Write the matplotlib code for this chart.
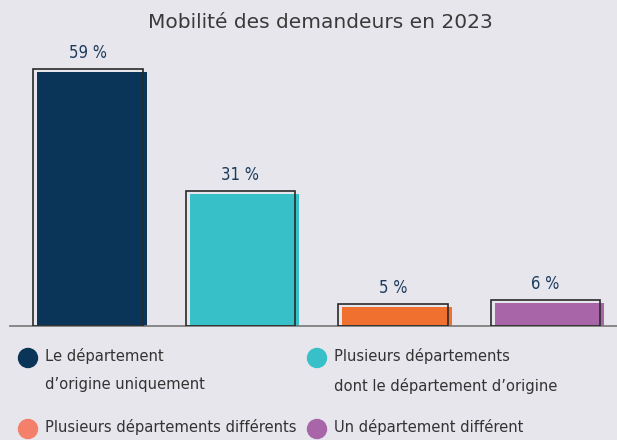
import matplotlib
matplotlib.use("Agg")
import matplotlib.pyplot as plt
from matplotlib.patches import Circle

# data
categories = ["Le département\nd’origine uniquement",
              "Plusieurs départements\ndont le département d’origine",
              "Plusieurs départements différents",
              "Un département différent"]
values = [59, 31, 5, 6]
labels = ["59 %", "31 %", "5 %", "6 %"]
bar_colors = ["#0a3558", "#38c0c8", "#f07030", "#a866a8"]
legend_colors = ["#0a3558", "#38c0c8", "#f47f6a", "#a866a8"]

bg = "#e6e6ec"
cond = "DejaVu Sans"

fig = plt.figure(figsize=(6.17, 4.40), dpi=100, facecolor=bg)
ax = fig.add_axes([10 / 617, 114 / 440, 607 / 617, 283 / 440])
ax.set_facecolor(bg)
ax.set_xlim(-0.511, 3.469)
ax.set_ylim(0, 65)

x = list(range(len(values)))
w = 0.72
dx, dy = 0.026, 0.7  # fill shifted right/down from the outline
ax.bar([i + dx for i in x], [v - dy for v in values], width=w,
       color=bar_colors, zorder=2)
ax.bar(x, values, width=w, fill=False, edgecolor="#2a2a2a",
       linewidth=1.2, zorder=3)
for i, v, t in zip(x, values, labels):
    ax.text(i, v + 1.6, t, ha="center", va="bottom", fontsize=12,
            color="#1b3a5c", family=cond, stretch="condensed")

for s in ["top", "right", "left"]:
    ax.spines[s].set_visible(False)
ax.spines["bottom"].set_color("#777777")
ax.spines["bottom"].set_linewidth(1.2)
ax.set_xticks([])
ax.set_yticks([])

fig.text(320 / 617, 1 - 23 / 440, "Mobilité des demandeurs en 2023",
         ha="center", va="center", fontsize=14.5, color="#3a3a3a",
         family="DejaVu Sans")

# legend
pos = [(28, 358), (317, 358), (28, 429), (317, 429)]
for (px, py), c, t in zip(pos, legend_colors, categories):
    fig.add_artist(Circle((px / 100, (440 - py) / 100), 0.095,
                          transform=fig.dpi_scale_trans, color=c))
    fig.text((px + 17) / 617, (440 - py + 10) / 440, t, ha="left", va="top",
             fontsize=11.8, color="#333333", family=cond,
             stretch="condensed", linespacing=2.05)

fig.savefig("out.png", dpi=100, facecolor=bg)
